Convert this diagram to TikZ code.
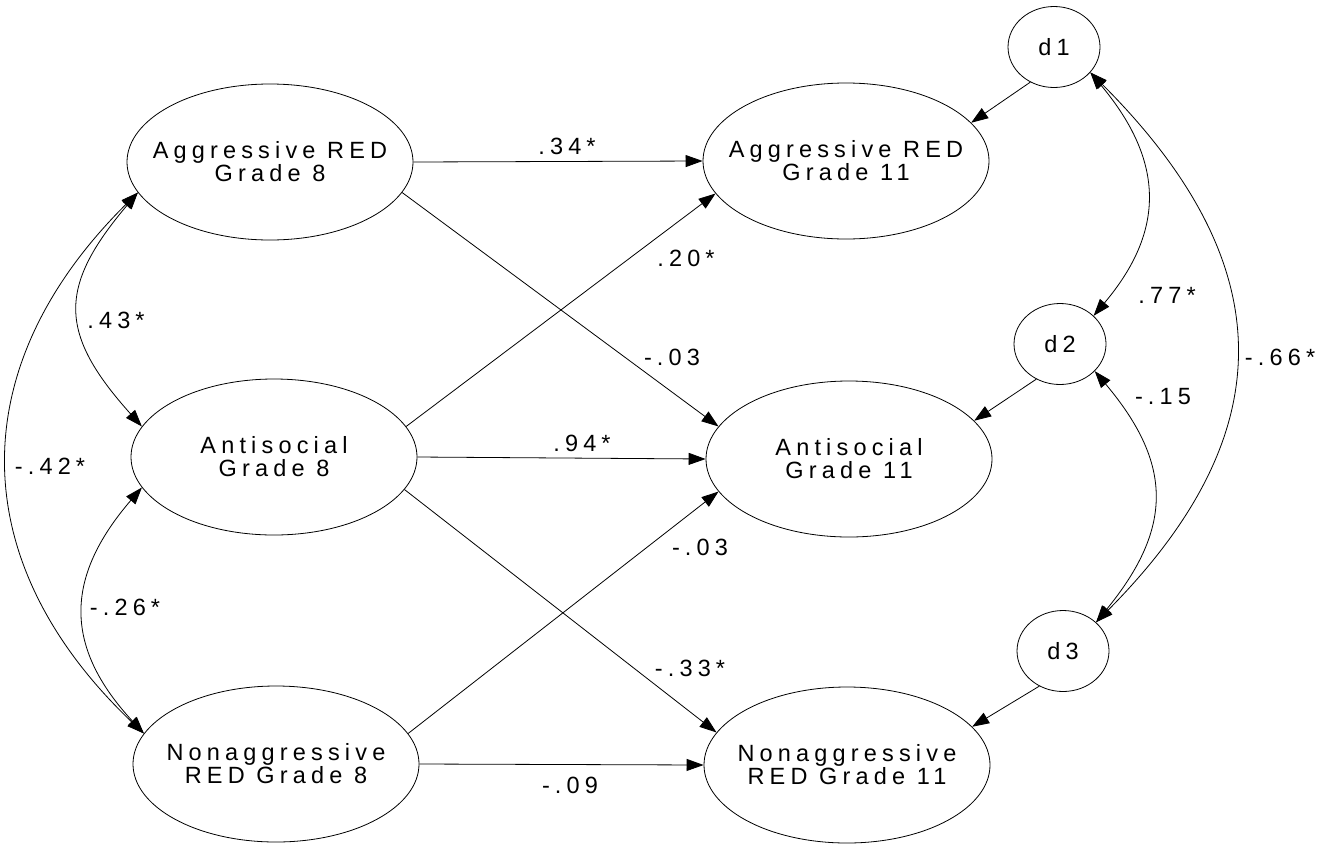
\documentclass[tikz,border=0pt]{standalone}
\usepackage{fontspec}
\setmainfont{Liberation Sans}
\newfontfamily\df[LetterSpace=22]{Liberation Sans}
\usetikzlibrary{arrows.meta,shapes.geometric}
\begin{document}
\begin{tikzpicture}[x=1pt,y=-1pt,
  >={Triangle[length=17pt,width=12pt]},
  line width=0.8pt,
  lat/.style={draw, ellipse, minimum width=286pt, minimum height=156pt, inner sep=0pt},
  dis/.style={draw, ellipse, minimum width=92pt, minimum height=81pt, inner sep=0pt, font=\df\fontsize{23.5}{23}\selectfont},
  txt/.style={font=\df\fontsize{23.5}{23}\selectfont, align=center, inner sep=0pt},
  lbl/.style={font=\df\fontsize{23.5}{23}\selectfont, inner sep=0pt}]
\useasboundingbox (0,0) rectangle (1335,846);

% latent variables
\node[lat, label={[txt,name=tA8]center:Aggressive RED\\Grade 8}] (A8) at (270,162) {};
\node[lat, label={[txt,name=tS8]center:Antisocial\\Grade 8}] (S8) at (274,457) {};
\node[lat, label={[txt,name=tN8]center:Nonaggressive\\RED Grade 8}] (N8) at (276,764) {};
\node[lat, label={[txt,name=tA11]center:Aggressive RED\\Grade 11}] (A11) at (846,161) {};
\node[lat, label={[txt,name=tS11]center:Antisocial\\Grade 11}] (S11) at (849,459) {};
\node[lat, label={[txt,name=tN11]center:Nonaggressive\\RED Grade 11}] (N11) at (847,765) {};

% disturbances
\node[dis] (d1) at (1054,47) {d1};
\node[dis] (d2) at (1060,344) {d2};
\node[dis] (d3) at (1063,651) {d3};

% paths
\draw[->] (A8.east) -- (A11.west);
\draw[->] (A8.-13) -- (S11.166);
\draw[->] (S8.13) -- (A11.194);
\draw[->] (S8.east) -- (S11.west);
\draw[->] (S8.-14) -- (N11.166);
\draw[->] (N8.13) -- (S11.194);
\draw[->] (N8.east) -- (N11.west);

\draw[->] (d1.236) -- (A11.17);
\draw[->] (d2.236) -- (S11.17);
\draw[->] (d3.236) -- (N11.17);

% covariances left
\draw[<->] (A8.193) .. controls (58,287) and (58,333) .. (S8.167);
\draw[<->] (A8.193) .. controls (-37,366) and (-37,561) .. (N8.167);
\draw[<->] (S8.193) .. controls (64,578) and (64,647) .. (N8.167);

% covariances right
\draw[<->] (d1.-35) .. controls (1165,162) and (1165,231) .. (d2.40);
\draw[<->] (d1.-35) .. controls (1283,265) and (1283,434) .. (d3.41);
\draw[<->] (d2.-38) .. controls (1173,464) and (1173,528) .. (d3.41);

% labels
\node[lbl] (l34) at (567,146) {.34*};
\node[lbl] (l20) at (686,258) {.20*};
\node[lbl] (l03a) at (672,357) {-.03};
\node[lbl] (l94) at (582,443) {.94*};
\node[lbl] (l03b) at (700,547) {-.03};
\node[lbl] (l33) at (690,668) {-.33*};
\node[lbl] (l09) at (570,785) {-.09};
\node[lbl] (l43) at (116,320) {.43*};
\node[lbl] (l42) at (50,466) {-.42*};
\node[lbl] (l26) at (125,607) {-.26*};
\node[lbl] (l77) at (1167,295) {.77*};
\node[lbl] (l66) at (1280,357) {-.66*};
\node[lbl] (l15) at (1163,397) {-.15};
\end{tikzpicture}
\end{document}
